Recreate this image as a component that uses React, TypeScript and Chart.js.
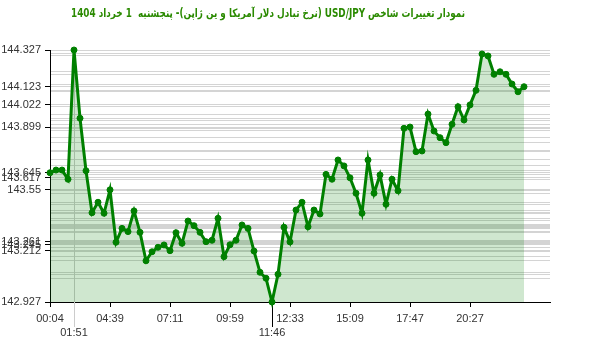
import { useEffect, useRef } from 'react';
import { Chart, registerables } from 'chart.js';

Chart.register(...registerables);

const titleText = 'نمودار تغییرات شاخص USD/JPY (نرخ تبادل دلار آمریکا و ین ژاپن)- پنجشنبه  1 خرداد 1404';

const prices = [
  143.645, 143.660, 143.660, 143.609, 144.327, 143.948, 143.656, 143.423, 143.481, 143.420,
  143.550, 143.259, 143.336, 143.318, 143.433, 143.314, 143.156, 143.206, 143.231, 143.244,
  143.212, 143.312, 143.253, 143.377, 143.351, 143.314, 143.262, 143.270, 143.392, 143.179,
  143.245, 143.270, 143.355, 143.336, 143.210, 143.092, 143.059, 142.927, 143.081, 143.342,
  143.261, 143.438, 143.481, 143.345, 143.438, 143.416, 143.636, 143.609, 143.716, 143.683,
  143.617, 143.531, 143.420, 143.716, 143.531, 143.633, 143.470, 143.609, 143.545, 143.892,
  143.899, 143.762, 143.766, 143.971, 143.877, 143.840, 143.812, 143.914, 144.012, 143.938,
  144.022, 144.103, 144.305, 144.294, 144.192, 144.206, 144.192, 144.138, 144.095, 144.123,
];

const tickIndices = [0, 10, 20, 30, 40, 50, 60, 70];
const tickTimes = ['00:04', '04:39', '07:11', '09:59', '12:33', '15:09', '17:47', '20:27'];
const highTime = '01:51';
const lowTime = '11:46';
const xAxisMax = 83.333;

export default function App() {
  const ref = useRef<HTMLCanvasElement>(null);

  useEffect(() => {
    if (!ref.current) return;
    const maxIdx = prices.indexOf(Math.max(...prices));
    const minIdx = prices.indexOf(Math.min(...prices));
    const lastIdx = prices.length - 1;
    const labeledVals = [...tickIndices, maxIdx, minIdx, lastIdx].map((i) => prices[i]);
    const isLabeled = (v: number) => labeledVals.some((l) => Math.abs(l - v) < 1e-9);
    const yTickVals = Array.from(new Set(prices)).sort((a, b) => a - b);
    const xTickVals = [...tickIndices, maxIdx, minIdx].sort((a, b) => a - b);
    const xLabel = (v: number): any => {
      const k = tickIndices.indexOf(v);
      if (k >= 0) return tickTimes[k];
      if (v === maxIdx) return ['', highTime];
      if (v === minIdx) return ['', lowTime];
      return '';
    };
    const font = { family: '"Liberation Sans", Arial, sans-serif', size: 11, lineHeight: 1.25 };

    const extras = {
      id: 'extras',
      beforeDatasetsDraw(chart: any) {
        const { ctx, chartArea, scales } = chart;
        const x = scales.x;
        const y = scales.y;
        ctx.save();
        ctx.lineWidth = 1;
        const xh = Math.floor(x.getPixelForValue(maxIdx)) + 0.5;
        ctx.strokeStyle = '#cccccc';
        ctx.beginPath();
        ctx.moveTo(xh, chartArea.top);
        ctx.lineTo(xh, chartArea.bottom + 25);
        ctx.stroke();
        const xl = Math.floor(x.getPixelForValue(minIdx)) + 0.5;
        ctx.strokeStyle = '#000000';
        ctx.beginPath();
        ctx.moveTo(xl, y.getPixelForValue(prices[minIdx]));
        ctx.lineTo(xl, chartArea.bottom + 25);
        ctx.stroke();
        ctx.restore();
      },
      afterDraw(chart: any) {
        const { ctx } = chart;
        ctx.save();
        ctx.direction = 'rtl';
        ctx.textAlign = 'center';
        ctx.textBaseline = 'middle';
        ctx.font = 'bold 11.5px "DejaVu Sans Condensed", "DejaVu Sans", sans-serif';
        ctx.fillStyle = '#2a8a00';
        ctx.fillText(titleText, 268, 14, 394);
        ctx.restore();
      },
    };

    const chart = new Chart(ref.current, {
      type: 'line',
      data: {
        datasets: [
          {
            data: prices.map((p, i) => ({ x: i, y: p })),
            borderColor: '#008000',
            backgroundColor: 'rgba(0,128,0,0.19)',
            fill: 'start',
            borderWidth: 3,
            pointRadius: 3,
            pointBorderWidth: 1,
            pointBackgroundColor: '#008000',
            pointBorderColor: '#008000',
            tension: 0,
            clip: false,
          } as any,
        ],
      },
      options: {
        animation: false,
        responsive: false,
        devicePixelRatio: 1,
        layout: { padding: { top: 50, right: 50, left: 0, bottom: 0 } },
        plugins: { legend: { display: false }, tooltip: { enabled: false }, title: { display: false } },
        scales: {
          x: {
            type: 'linear',
            min: 0,
            max: xAxisMax,
            afterBuildTicks: (s: any) => {
              s.ticks = xTickVals.map((v) => ({ value: v }));
            },
            afterFit: (s: any) => {
              s.height = 50;
            },
            grid: {
              drawOnChartArea: false,
              drawTicks: true,
              tickLength: 5,
              tickColor: (c: any) =>
                c.tick && (c.tick.value === maxIdx || c.tick.value === minIdx) ? 'rgba(0,0,0,0)' : '#000000',
            },
            border: { display: true, color: '#000000', width: 1 },
            ticks: {
              autoSkip: false,
              maxRotation: 0,
              padding: 5,
              color: '#333333',
              font,
              callback: (v: any) => xLabel(Number(v)),
            },
          },
          y: {
            type: 'linear',
            min: Math.min(...prices),
            max: Math.max(...prices),
            afterBuildTicks: (s: any) => {
              s.ticks = yTickVals.map((v) => ({ value: v }));
            },
            afterFit: (s: any) => {
              s.width = 50;
            },
            grid: {
              color: '#d4d4d4',
              lineWidth: 1,
              drawTicks: true,
              tickLength: 5,
              tickColor: (c: any) => (c.tick && isLabeled(c.tick.value) ? '#000000' : 'rgba(0,0,0,0)'),
            },
            border: { display: true, color: '#000000', width: 1 },
            ticks: {
              autoSkip: false,
              padding: 4,
              color: '#333333',
              font,
              callback: (v: any) => (isLabeled(Number(v)) ? String(v) : ''),
            },
          },
        },
      } as any,
      plugins: [extras],
    });
    return () => chart.destroy();
  }, []);

  return (
    <div style={{ position: 'absolute', left: 0, top: 0, width: 600, height: 352 }}>
      <canvas ref={ref} width={600} height={352} style={{ display: 'block' }} />
    </div>
  );
}
